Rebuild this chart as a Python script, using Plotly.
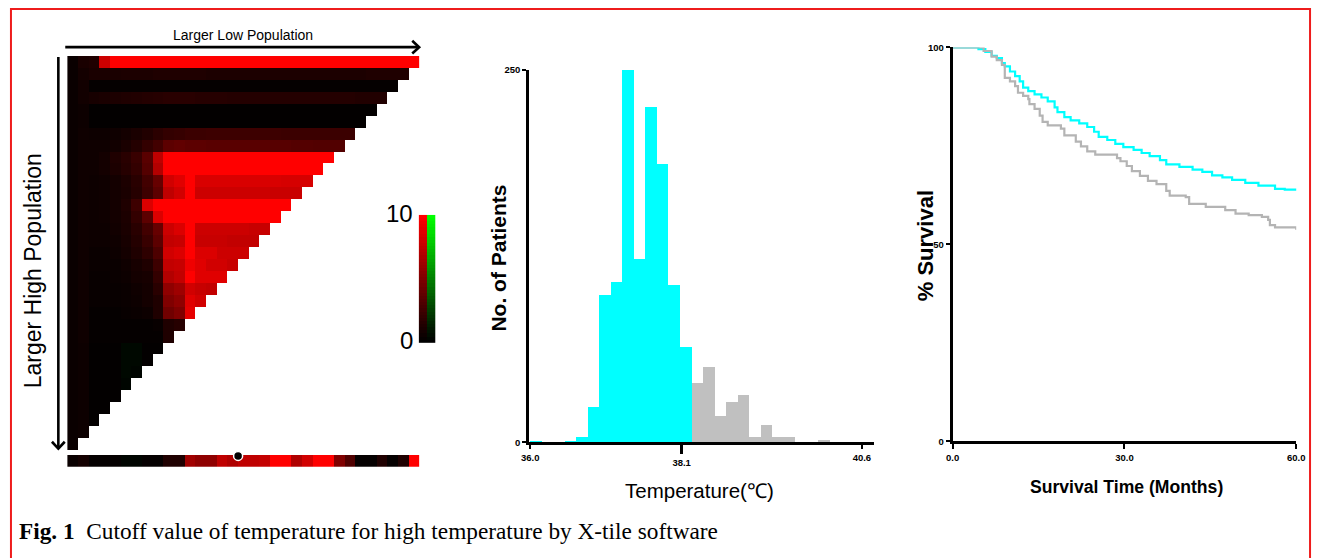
import plotly.graph_objects as go

W, H = 1322, 558

# ---------------- data ----------------
# X-tile triangular plot: row r (top to bottom) has 33 - r cells, intensity 0..10 (red), negative = green
XTILE_ROWS = [
    [0.4, 1.0, 1.2, 8.0, 10, 10, 10, 10, 10, 10,
     10, 10, 10, 10, 10, 10, 10, 10, 10, 10,
     10, 10, 10, 10, 10, 10, 10, 10, 10, 10,
     10, 10, 10],
    [0.4, 0.8, 1.0, 1.0, 1.0, 1.1, 1.1, 1.1, 1.2, 1.2,
     1.2, 1.2, 1.2, 1.1, 1.1, 1.1, 1.1, 1.1, 1.1, 1.1,
     1.1, 1.1, 1.1, 1.1, 1.1, 1.1, 1.1, 1.1, 1.2, 1.2,
     1.2, 1.2],
    [0.4, 0.7, 0.2, 0.2, 0.2, 0.2, 0.2, 0.2, 0.2, 0.2,
     0.2, 0.2, 0.2, 0.2, 0.2, 0.2, 0.2, 0.2, 0.2, 0.2,
     0.2, 0.2, 0.2, 0.2, 0.2, 0.2, 0.2, 0.2, 0.2, 0.2,
     0.2],
    [0.4, 0.7, 0.9, 1.0, 1.1, 1.2, 1.3, 1.4, 1.5, 1.6,
     1.6, 1.6, 1.5, 1.5, 1.5, 1.4, 1.4, 1.4, 1.4, 1.4,
     1.4, 1.4, 1.4, 1.4, 1.4, 1.4, 1.4, 1.3, 1.3, 1.3],
    [0.4, 0.5, 0.1, 0.1, 0.1, 0.1, 0.1, 0.1, 0.1, 0.1,
     0.1, 0.1, 0.1, 0.1, 0.1, 0.1, 0.1, 0.1, 0.1, 0.1,
     0.1, 0.1, 0.1, 0.1, 0.1, 0.1, 0.1, 0.1, 0.1],
    [0.4, 0.5, 0.1, 0.1, 0.1, 0.1, 0.1, 0.1, 0.1, 0.1,
     0.1, 0.1, 0.1, 0.1, 0.1, 0.1, 0.1, 0.1, 0.1, 0.1,
     0.1, 0.1, 0.1, 0.1, 0.1, 0.1, 0.1, 0.1],
    [0.4, 0.6, 0.5, 0.5, 0.6, 0.8, 1.0, 1.3, 1.7, 2.0,
     2.1, 2.3, 2.3, 2.4, 2.4, 2.4, 2.4, 2.4, 2.4, 2.4,
     2.3, 2.3, 2.3, 2.3, 2.3, 2.3, 2.3],
    [0.4, 0.6, 0.6, 0.6, 0.7, 1.0, 1.4, 2.0, 2.6, 3.6,
     3.8, 3.6, 3.6, 3.5, 3.5, 3.5, 3.5, 3.5, 3.5, 3.4,
     3.4, 3.3, 3.3, 3.2, 3.2, 3.2],
    [0.4, 0.6, 0.6, 0.8, 1.2, 1.6, 2.2, 3.5, 7.5, 10,
     10, 10, 10, 10, 10, 10, 10, 10, 10, 10,
     10, 10, 10, 10, 10],
    [0.4, 0.6, 0.6, 0.8, 1.1, 1.5, 2.0, 3.3, 7.0, 10,
     10, 10, 10, 10, 10, 10, 10, 10, 10, 10,
     10, 10, 10, 10],
    [0.4, 0.6, 0.5, 0.6, 0.8, 1.1, 1.6, 2.6, 4.0, 8.2,
     8.8, 10, 8.5, 8.5, 8.5, 8.5, 8.5, 8.5, 8.5, 8.5,
     8.4, 8.4, 8.4],
    [0.4, 0.6, 0.5, 0.6, 0.8, 1.0, 1.5, 2.4, 3.6, 7.5,
     8.2, 10, 8.0, 8.0, 8.0, 8.0, 8.0, 8.0, 8.0, 7.9,
     7.9, 7.9],
    [0.4, 0.6, 0.5, 0.6, 0.8, 1.2, 2.4, 8.6, 10, 10,
     10, 10, 10, 10, 10, 10, 10, 10, 10, 10,
     10],
    [0.4, 0.6, 0.5, 0.6, 0.8, 1.1, 2.0, 3.6, 8.6, 10,
     10, 10, 10, 10, 10, 10, 10, 10, 10, 10],
    [0.4, 0.6, 0.5, 0.5, 0.7, 1.0, 1.6, 2.6, 4.0, 8.0,
     8.6, 10, 8.0, 8.0, 8.0, 8.0, 8.0, 7.8, 7.8],
    [0.4, 0.6, 0.5, 0.5, 0.6, 0.9, 1.4, 2.2, 3.6, 7.6,
     7.8, 10, 7.8, 7.8, 7.8, 7.6, 7.6, 7.6],
    [0.4, 0.6, 0.4, 0.4, 0.5, 0.8, 1.2, 1.8, 3.0, 8.2,
     8.6, 10, 8.6, 8.6, 8.0, 8.0, 8.0],
    [0.4, 0.6, 0.4, 0.4, 0.4, 0.6, 0.9, 1.2, 2.4, 7.6,
     7.8, 9.4, 8.8, 8.2, 8.2, 7.8],
    [0.4, 0.6, 0.3, 0.3, 0.4, 0.5, 0.8, 0.9, 2.0, 7.0,
     7.6, 10, 8.8, 8.8, 8.8],
    [0.4, 0.6, 0.3, 0.3, 0.3, 0.4, 0.6, 0.8, 1.6, 5.6,
     6.2, 8.2, 7.8, 7.6],
    [0.4, 0.6, 0.3, 0.3, 0.3, 0.4, 0.5, 0.8, 1.2, 5.0,
     5.6, 8.8, 8.2],
    [0.4, 0.6, 0.2, 0.2, 0.2, 0.3, 0.4, 0.5, 1.2, 4.4,
     5.0, 9.0],
    [0.4, 0.6, 0.2, 0.2, 0.2, 0.2, 0.2, 0.2, 0.3, 1.2, 1.5],
    [0.4, 0.6, 0.2, 0.2, 0.2, 0.2, 0.2, 0.2, 0.2, 1.2],
    [0.4, 0.5, 0.1, 0.1, 0.1, -0.3, -0.3, 0.1, 0.1],
    [0.4, 0.5, 0.1, 0.1, 0.1, -0.3, -0.3, 0.1],
    [0.4, 0.5, 0.1, 0.1, 0.1, -0.3, -0.2],
    [0.4, 0.5, 0.1, 0.1, 0.1, -0.2],
    [0.4, 0.5, 0.1, 0.1, 0.1],
    [0.4, 0.5, 0.1, 0.1],
    [0.4, 0.5, 0.1],
    [0.4, 0.5],
    [0.4],
]
N_CELLS = 33

# strip below the triangle (33 cells)
STRIP_VALUES = [0.4, 0.8, 0.2, 0.2, 0.2, -0.2, -0.2, 0.2, 0.2, 1.2,
                1.2, 6.3, 5.6, 5.6, 7.5, 6.9, 7.5, 7.5, 7.7, 10,
                10, 6.9, 8.2, 10, 10, 5.0, 3.1, 0.2, 0.2, 1.2,
                0.2, 1.2, 10]
CUTOFF_POS = 15.5

CBAR_LEVELS = [0, 0.25, 0.5, 0.75, 1, 1.25, 1.5, 1.75, 2, 2.25, 2.5, 2.75, 3, 3.25,
               3.5, 3.75, 4, 4.25, 4.5, 4.75, 5, 5.25, 5.5, 5.75, 6, 6.25, 6.5,
               6.75, 7, 7.25, 7.5, 7.75, 8, 8.25, 8.5, 8.75, 9, 9.25, 9.5, 9.75, 10]
CBAR_LABELS = ["10", "0"]

# histogram of temperature (bins of 0.16 degC starting at 36.0)
HIST_START = 36.0
HIST_WIDTH = 0.16
HIST_COUNTS = [1, 0, 0, 1, 4, 24, 99, 108, 250, 123,
               225, 187, 106, 64, 40, 51, 18, 27, 32, 4,
               12, 4, 4, 0, 0, 2, 0, 0, 0]
HIST_CUT_BIN = 14          # first bin of the high-temperature (grey) group
TEMP_TICKS = [36.0, 40.6]
TEMP_CUTOFF = 38.1
COUNT_TICKS = [0, 250]

# Kaplan-Meier curves
CYAN_T = [0, 4.5, 5.7, 6.8, 7.7, 8.6, 9.1, 10.0, 10.9, 11.7,
          12.3, 13.2, 14.3, 15.5, 16.6, 17.8, 18.3, 19.5, 20.6, 22.1,
          23.5, 24.7, 25.5, 27.0, 28.4, 29.8, 31.6, 33.0, 34.4, 36.2,
          37.3, 39.6, 41.9, 43.6, 45.3, 47.1, 48.8, 51.1, 53.4, 56.3,
          58.0, 60.0]
CYAN_S = [100, 99.6, 98.9, 97.9, 97.3, 96.0, 95.2, 93.9, 92.7, 91.4,
          89.8, 88.9, 88.1, 87.3, 86.3, 84.8, 83.6, 82.3, 81.5, 80.7,
          79.8, 78.6, 77.3, 76.5, 75.5, 74.7, 74.0, 73.2, 72.4, 71.4,
          70.3, 69.7, 69.0, 68.4, 67.5, 67.0, 66.4, 65.6, 64.9, 64.1,
          63.9, 63.6]
GRAY_T = [0, 4.0, 5.4, 6.8, 7.7, 8.6, 9.1, 10.0, 10.9, 11.4,
          12.3, 13.2, 13.4, 14.3, 15.2, 15.7, 16.6, 18.9, 19.5, 21.5,
          22.4, 23.5, 24.9, 28.7, 29.3, 30.4, 31.3, 32.7, 34.1, 35.6,
          37.3, 37.9, 40.7, 41.3, 44.2, 47.6, 49.4, 51.7, 54.0, 55.1,
          55.4, 56.3, 60.0]
GRAY_S = [100, 100, 99.1, 97.7, 96.8, 95.6, 92.3, 91.4, 90.2, 88.5,
          87.7, 86.9, 85.6, 84.4, 82.7, 81.1, 80.2, 79.4, 77.7, 76.1,
          74.9, 73.6, 72.8, 71.9, 71.1, 69.9, 68.6, 67.4, 66.1, 65.3,
          63.6, 62.4, 62.0, 60.3, 59.5, 58.7, 57.8, 57.4, 57.0, 56.2,
          54.9, 54.3, 53.7]
TIME_TICKS = [0, 30, 60]
TIME_LABELS = ["0.0", "30.0", "60.0"]
SURV_TICKS = [0, 50, 100]

CAPTION = "<b>Fig. 1</b>\u00a0\u00a0Cutoff value of temperature for high temperature by X-tile software"

# ---------------- helpers ----------------
SANS = "Liberation Sans, Arial, sans-serif"
SERIF = "Liberation Serif, Times New Roman, serif"
XT_SCALE = [[0, "#00ff00"], [0.5, "#000000"], [1, "#ff0000"]]


def dx(a, b):
    return [a / W, b / W]


def dy(top, bottom):
    return [1 - bottom / H, 1 - top / H]


def px(x):
    return x / W


def py(y):
    return 1 - y / H


# ---------------- traces ----------------
z = []
for r, row in enumerate(XTILE_ROWS):
    cells = list(row[:N_CELLS - r])
    z.append(cells + [None] * (N_CELLS - len(cells)))

fig = go.Figure()
fig.add_trace(go.Heatmap(z=z, x=list(range(N_CELLS)), y=list(range(N_CELLS)),
                         colorscale=XT_SCALE, zmin=-10, zmax=10, showscale=False,
                         hoverinfo="skip", xaxis="x", yaxis="y"))
fig.add_trace(go.Heatmap(z=[STRIP_VALUES], x=list(range(N_CELLS)), y=[0],
                         colorscale=XT_SCALE, zmin=-10, zmax=10, showscale=False,
                         hoverinfo="skip", xaxis="x2", yaxis="y2"))
fig.add_trace(go.Scatter(x=[CUTOFF_POS], y=[0.42], mode="markers",
                         marker=dict(size=9, color="black", line=dict(color="white", width=1.5)),
                         cliponaxis=False, hoverinfo="skip", xaxis="x2", yaxis="y2"))
fig.add_trace(go.Heatmap(z=[[lv, -lv] for lv in CBAR_LEVELS], x=[0, 1], y=CBAR_LEVELS,
                         colorscale=XT_SCALE, zmin=-10, zmax=10, showscale=False,
                         hoverinfo="skip", xaxis="x3", yaxis="y3"))

centers = [HIST_START + HIST_WIDTH * (i + 0.5) for i in range(len(HIST_COUNTS))]
fig.add_trace(go.Bar(x=centers[:HIST_CUT_BIN], y=HIST_COUNTS[:HIST_CUT_BIN], width=HIST_WIDTH,
                     marker=dict(color="#00ffff", line=dict(width=0)), xaxis="x4", yaxis="y4"))
fig.add_trace(go.Bar(x=centers[HIST_CUT_BIN:], y=HIST_COUNTS[HIST_CUT_BIN:], width=HIST_WIDTH,
                     marker=dict(color="#c0c0c0", line=dict(width=0)), xaxis="x4", yaxis="y4"))
fig.add_trace(go.Scatter(x=[TEMP_CUTOFF], y=[0], mode="markers", marker=dict(opacity=0),
                         hoverinfo="skip", xaxis="x5", yaxis="y4"))

fig.add_trace(go.Scatter(x=CYAN_T, y=CYAN_S, mode="lines",
                         line=dict(color="#00ffff", width=2.2, shape="hv"), xaxis="x6", yaxis="y6"))
fig.add_trace(go.Scatter(x=GRAY_T, y=GRAY_S, mode="lines",
                         line=dict(color="#b4b4b4", width=2.2, shape="hv"), xaxis="x6", yaxis="y6"))

# ---------------- layout ----------------
hidden = dict(visible=False, showgrid=False, zeroline=False, fixedrange=True)
tickfont = dict(family=SANS, size=9.5, color="black", weight="bold")
axis_common = dict(showline=True, linecolor="black", linewidth=3, showgrid=False, zeroline=False,
                   ticks="outside", tickcolor="black", tickwidth=2, tickfont=tickfont)

xr4 = [35.986, 40.764]
fig.update_layout(
    width=W, height=H, autosize=False,
    margin=dict(l=0, r=0, t=0, b=0),
    paper_bgcolor="white", plot_bgcolor="white",
    showlegend=False, barmode="overlay", bargap=0,
    xaxis=dict(domain=dx(60, 417), range=[-0.5, 32.5], anchor="y", **hidden),
    yaxis=dict(domain=dy(51, 453), range=[32.5, -0.5], anchor="x", **hidden),
    xaxis2=dict(domain=dx(60, 417), range=[-0.5, 32.5], anchor="y2", **hidden),
    yaxis2=dict(domain=dy(458, 470), range=[-0.5, 0.5], anchor="x2", **hidden),
    xaxis3=dict(domain=dx(416, 433), range=[-0.5, 1.5], anchor="y3", **hidden),
    yaxis3=dict(domain=dy(213, 344), range=[-0.125, 10.125], anchor="x3", **hidden),
    xaxis4=dict(domain=dx(528, 877), range=xr4, anchor="y4", tickvals=TEMP_TICKS,
                ticktext=["%.1f" % t for t in TEMP_TICKS], ticklen=4, **axis_common),
    xaxis5=dict(domain=dx(528, 877), range=xr4, anchor="y4", overlaying="x4", side="bottom",
                tickvals=[TEMP_CUTOFF], ticktext=["%.1f" % TEMP_CUTOFF], ticks="outside",
                ticklen=11, tickwidth=2.5, tickcolor="black", tickfont=tickfont,
                showline=False, showgrid=False, zeroline=False),
    yaxis4=dict(domain=dy(65, 445), range=[0, 250], anchor="x4", tickvals=COUNT_TICKS,
                ticklen=4, **axis_common),
    xaxis6=dict(domain=dx(957, 1305), range=[0, 60], anchor="y6", tickvals=TIME_TICKS,
                ticktext=TIME_LABELS, ticklen=5, **axis_common),
    yaxis6=dict(domain=dy(42.3, 444), range=[0, 100], anchor="x6", tickvals=SURV_TICKS,
                ticklen=4, **axis_common),
)

# arrows of the X-tile plot and the figure frame
shapes = [
    dict(type="line", xref="paper", yref="paper", x0=px(58), y0=py(42), x1=px(416), y1=py(42),
         line=dict(color="black", width=2.6)),
    dict(type="path", xref="paper", yref="paper",
         path="M %f %f L %f %f L %f %f" % (px(409.5), py(35.5), px(416.5), py(42), px(409.5), py(48.5)),
         line=dict(color="black", width=2.6)),
    dict(type="line", xref="paper", yref="paper", x0=px(51), y0=py(52), x1=px(51), y1=py(451),
         line=dict(color="black", width=2.6)),
    dict(type="path", xref="paper", yref="paper",
         path="M %f %f L %f %f L %f %f" % (px(44.5), py(444.5), px(51), py(451.5), px(57.5), py(444.5)),
         line=dict(color="black", width=2.6)),
    dict(type="rect", xref="paper", yref="paper", x0=px(3), y0=py(3), x1=px(1319), y1=py(575),
         line=dict(color="#ee1c1c", width=2), fillcolor="rgba(0,0,0,0)"),
]
fig.update_layout(shapes=shapes)


def ann(text, x, y, size, angle=0, bold=False, family=SANS, xanchor="center"):
    fig.add_annotation(text=text, x=px(x), y=py(y), xref="paper", yref="paper",
                       xanchor=xanchor, yanchor="middle", showarrow=False, textangle=angle,
                       font=dict(family=family, size=size, color="black",
                                 weight="bold" if bold else "normal"))


ann("Larger Low Population", 238, 30, 14)
ann("Larger High Population", 25, 270, 23, angle=-90)
ann(CBAR_LABELS[0], 412, 212, 24, xanchor="right")
ann(CBAR_LABELS[1], 412, 341, 24, xanchor="right")
ann("No. of Patients", 497, 257, 21, angle=-90, bold=True)
ann("Temperature(\u2103)", 701, 494, 20.5)
ann("% Survival", 929, 245, 22, angle=-90, bold=True)
ann("Survival Time (Months)", 1133, 491, 17.6, bold=True)
ann(CAPTION, 9, 536, 23.3, family=SERIF, xanchor="left")

POST = (
    "document.documentElement.style.margin='0';"
    "document.documentElement.style.overflow='hidden';"
    "document.body.style.margin='0';document.body.style.padding='0';"
    "document.body.style.overflow='hidden';"
    "var gd=document.getElementsByClassName('plotly-graph-div')[0];"
    "if(gd){gd.style.position='fixed';gd.style.left='0px';gd.style.top='0px';}"
)
fig.write_html("out.html", config={"displayModeBar": False}, post_script=POST)
